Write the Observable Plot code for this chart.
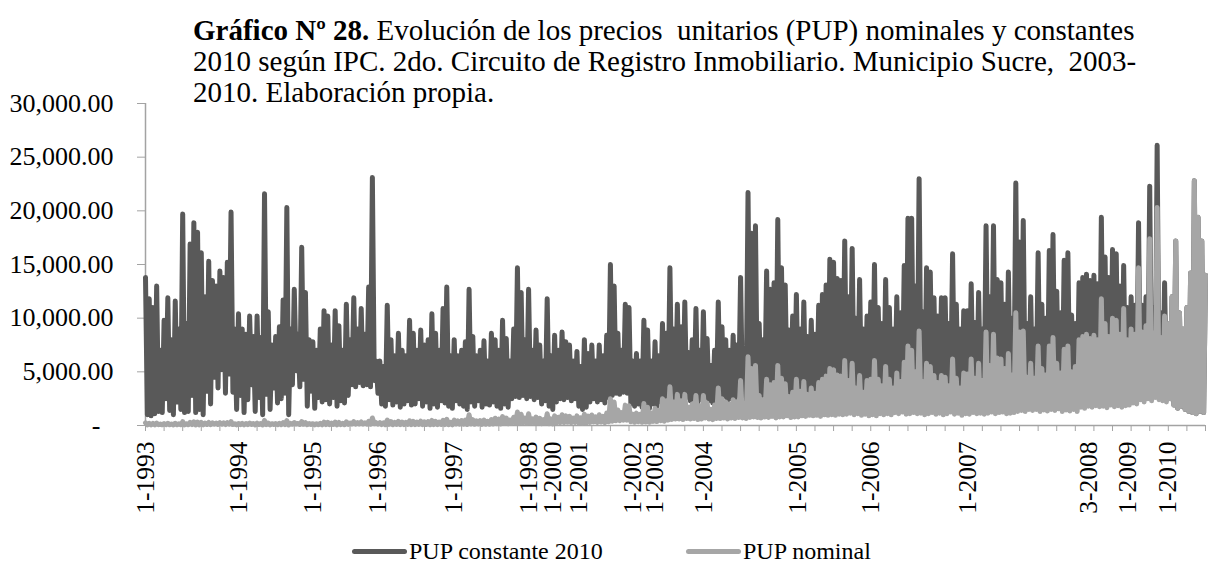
<!DOCTYPE html>
<html>
<head>
<meta charset="utf-8">
<script src="https://cdn.jsdelivr.net/npm/d3@7"></script>
<script src="https://cdn.jsdelivr.net/npm/@observablehq/plot@0.6"></script>
<style>
  html, body { margin: 0; padding: 0; background: #fff; }
  #wrap { position: relative; width: 1208px; height: 565px; overflow: hidden;
          font-family: "Liberation Serif", "Times New Roman", serif; color: #000; }
  #chart { position: absolute; left: 0; top: 0; }
  #title { position: absolute; left: 193px; top: 15px; font-size: 29px; line-height: 31px; }
  #title div { height: 31px; white-space: nowrap; }
  #title span { white-space: pre; }
  .item { position: absolute; top: 539px; height: 24px; line-height: 24px; font-size: 24px;
          display: flex; align-items: center; white-space: nowrap; }
  .sw { display: inline-block; width: 55px; height: 5px; border-radius: 2.5px; margin-right: 2px; }
</style>
</head>
<body>
<div id="wrap">
  <div id="chart"></div>
  <div id="title"><div><span style="font-weight:bold">Gráfico Nº 28.</span><span> Evolución de los precios  unitarios (PUP) nominales y constantes</span></div><div><span>2010 según IPC. 2do. Circuito de Registro Inmobiliario. Municipio Sucre,  2003-</span></div><div><span>2010. Elaboración propia.</span></div></div>
  <div id="legend"></div>
</div>
<script>
// PUP constante 2010 (one value per record, in order)
const pupConstante = [
  // 1993-1994
  13800,1000, 11800,900, 11000,1100, 13000,1300, 7000,1200, 9800,2500, 11900,1400, 8000,1000,
  11600,2200, 9000,1500, 19700,1200, 9500,1300, 16900,2800, 18900,1200, 18000,1500, 16100,1000,
  12000,3200, 15300,2000, 13500,4500, 13000,3500, 14400,5200, 13800,3000, 15200,4800, 19900,3100,
  9000,1500, 10400,2800, 9000,1200, 8500,2400, 10200,3800, 8300,1300, 10200,2600, 8200,1000,
  21600,2900, 10600,1500, 7500,3500, 8300,2100, 9200,2500, 11700,3000, 20300,1000, 9000,3800,
  12700,5100, 8500,3600, 16600,4300, 12400,1800, 8000,3200, 7800,1600, 7000,2600, 9000,2200,
  // 1995-1997
  10700,2400, 10200,2000, 7500,2600, 10700,1800, 9300,2300, 7000,2100, 11300,2800, 8000,3800,
  11900,3600, 9000,4000, 10900,3700, 8500,3800, 12900,3600, 23100,4200, 6000,3000, 6000,2000,
  5500,1800, 11200,2400, 8000,1900, 6500,2200, 8600,1700, 7000,2000, 6500,2300, 9800,1900,
  8600,2000, 7000,2500, 8900,1800, 7500,2200, 8000,1600, 10400,2000, 8600,1700, 7000,2300,
  10900,2100, 12900,1800, 6500,1600, 8000,2300, 6500,2000, 7000,1800, 7800,1500, 12700,2200,
  8300,1800, 6500,2300, 7000,1700, 7900,2000, 6000,1900, 8600,2200,
  // 1998-2003
  8000,1800, 7000,1600, 9800,2000, 8100,1700, 6000,2500, 9000,2700, 14700,2600, 12400,2800,
  8000,2500, 12700,2700, 7000,2400, 8900,2600, 7500,2000, 6000,2300, 11800,1800, 6500,1500,
  8400,2200, 7000,2500, 8700,2400, 7800,2600, 7500,2300, 6000,2500, 6900,1800, 5500,1500,
  8000,1700, 6700,2200, 7500,2500, 6000,2200, 7500,2400, 6500,2100, 8400,2600, 15000,2800,
  13000,3000, 8600,2900, 7000,3100, 11300,3000, 11000,2000, 6000,1800, 6700,2000, 6000,1700,
  9800,1900, 8900,1600, 6000,2000, 7800,1800, 6500,2200, 9500,1900, 8600,2100,
  // 2003-2005
  14700,2300, 9000,2500, 11300,2400, 9200,2200, 11500,2600, 6800,2300, 8000,2500, 10900,2200,
  7000,2400, 10600,2600, 8100,2300, 5600,2100, 7000,2500, 11500,2400, 9200,2700, 8000,2300,
  7000,2500, 8400,2400, 7500,2800, 13800,2600, 6700,2400, 21700,2700, 17900,2900, 18600,2600,
  9500,2500, 8000,2800, 14400,2600, 12700,2900, 13300,2500, 19200,2800, 14700,2700, 13100,3000,
  8900,2600, 10200,2800, 12200,2600, 9000,2900, 11500,2700, 8300,3000, 9800,2800, 8500,3000,
  11200,2700, 12200,3100, 13100,2900, 15500,3200, 15200,3000, 13700,3300, 13500,3100,
  // 2005-2007
  17200,3000, 12000,3300, 16500,2900, 10000,3200, 13600,2800, 9000,3100, 10200,2700, 11500,3000,
  15000,2600, 11000,3100, 9500,2800, 13600,3000, 11000,2700, 9000,3200, 12000,2900, 10500,3300,
  14900,2800, 19300,3000, 19300,3200, 13000,2900, 23000,3100, 10600,2700, 14700,3000, 14300,3200,
  11900,2800, 10200,3100, 11900,2700, 11900,3000, 9500,3300, 16000,2800, 11300,3100, 9000,2600,
  10700,3000, 10700,2800, 13200,3200, 9600,2900, 12400,3100, 9000,2800, 18600,3000, 12000,3300,
  18600,2900, 13600,3100, 13300,3200, 11300,2900, 14300,3000, 10000,3100, 22600,3300,
  // 2007-2010
  17100,3000, 19100,2800, 9500,3200, 12000,2900, 9000,3100, 16100,2700, 11300,3000, 10000,2800,
  16300,3100, 17800,2900, 12500,3200, 10500,2700, 15400,3000, 16100,2800, 10300,3100, 9500,2600,
  13300,2900, 13800,2700, 14100,3000, 13500,2800, 14000,3100, 13200,2900, 19400,3000, 15700,2700,
  13800,3200, 16400,2900, 16000,3100, 13000,2800, 14900,3000, 11000,2700, 12000,3000, 11200,2800,
  18900,3100, 11200,2900, 12000,3200, 22300,3000, 11000,3300, 26100,3100, 10500,3000, 13300,2800,
  9500,2500, 12000,1900, 17200,1600, 10500,1800, 9000,1500, 11000,1300, 14200,1200, 22800,1100,
  19400,1300, 17200,1200, 14000
];

// PUP nominal (same records)
const pupNominal = [
  // 1993-1994
  250,60, 210,50, 200,60, 230,70, 130,60, 180,80, 210,70, 140,60,
  210,80, 160,70, 350,60, 170,70, 300,90, 340,60, 320,70, 290,60,
  220,100, 280,80, 240,120, 230,100, 260,130, 250,90, 270,120, 360,90,
  160,60, 190,80, 200,60, 190,80, 220,100, 180,60, 220,90, 180,50,
  470,90, 230,60, 170,100, 180,70, 200,80, 260,90, 450,50, 200,110,
  280,140, 190,100, 370,120, 270,70, 180,100, 170,60, 160,80, 200,70,
  // 1995-1997
  320,90, 300,80, 230,100, 320,70, 280,90, 210,80, 340,110, 240,140,
  360,130, 270,150, 330,140, 260,140, 390,130, 700,160, 270,130, 270,90,
  250,80, 500,110, 360,90, 290,100, 390,80, 320,90, 290,100, 440,90,
  390,90, 320,110, 400,80, 340,100, 360,70, 470,90, 390,80, 320,100,
  490,90, 580,80, 290,70, 500,150, 420,130, 460,120, 510,100, 1000,140,
  540,120, 420,150, 460,110, 510,130, 390,120, 560,140,
  // 1998-2003
  680,170, 600,150, 830,180, 690,160, 510,220, 770,230, 1250,220, 1050,240,
  700,220, 1100,240, 620,210, 790,230, 670,180, 540,200, 1100,170, 610,140,
  900,230, 770,270, 1000,280, 900,300, 860,260, 700,290, 900,240, 720,200,
  1050,220, 870,290, 980,330, 800,290, 1000,320, 860,280, 1150,350, 2500,400,
  2200,450, 1450,450, 1200,500, 1900,500, 1850,350, 1050,300, 1150,350, 1050,300,
  2050,320, 1700,300, 1150,380, 1600,370, 1400,450, 2500,400, 2300,500,
  // 2003-2005
  3600,550, 2200,600, 2900,600, 2300,550, 2900,650, 1700,600, 2000,650, 2800,550,
  1800,600, 2800,700, 2100,600, 1500,550, 1900,650, 3500,650, 2500,700, 2200,600,
  2000,700, 2400,650, 2200,750, 4200,700, 2000,650, 6400,750, 5300,800, 5600,750,
  2800,700, 2400,800, 4300,750, 3800,850, 4000,700, 5600,800, 4400,800, 3900,900,
  2700,750, 3100,800, 4300,800, 3200,900, 4100,850, 2900,950, 3500,900, 3000,950,
  4000,850, 4300,1000, 4600,950, 5300,1000, 5200,950, 4700,1050, 4600,1000,
  // 2005-2007
  6050,1050, 4200,1150, 5800,1000, 3500,1100, 4650,950, 3100,1050, 4200,900, 4300,1000,
  6050,900, 4300,1100, 3700,1000, 5500,1100, 4300,1000, 3500,1200, 4900,1100, 4100,1250,
  5900,1050, 7400,1100, 7000,1200, 5000,1100, 8800,1150, 4100,1000, 5800,1100, 5500,1200,
  4650,1050, 4000,1150, 4650,1000, 4500,1100, 3700,1250, 6200,1050, 4400,1150, 3500,950,
  4900,1100, 4800,1050, 6200,1200, 4400,1100, 5800,1150, 4200,1050, 8700,1150, 5600,1250,
  8500,1100, 6300,1200, 6200,1250, 5300,1100, 6700,1150, 4700,1200, 10500,1300,
  // 2007-2010
  8700,1400, 8800,1300, 4500,1500, 5800,1400, 4400,1500, 7400,1300, 5300,1450, 4700,1350,
  7400,1500, 8200,1400, 5800,1550, 4900,1300, 7100,1450, 7400,1350, 5000,1500, 5500,1300,
  8000,1700, 8300,1600, 8500,1800, 8100,1700, 8400,1850, 8000,1750, 11800,1800, 9500,1650,
  8300,1900, 10000,1750, 9800,1850, 8500,1700, 10900,1850, 8000,1900, 9000,2100, 8500,2000,
  14700,2400, 8700,2200, 9300,2500, 17400,2300, 8600,2600, 20300,2400, 8200,2300, 10200,2200,
  9500,2500, 12000,1900, 17200,1600, 10500,1800, 9000,1500, 11000,1300, 14200,1200, 22800,1100,
  19400,1300, 17200,1200, 14000
];

// records that carry a category label on the axis
const labelRecord = [0, 50, 90, 125, 166, 206, 219, 233, 262, 274, 300, 351, 390, 442, 507, 528, 550];
const labelText = ["1-1993", "1-1994", "1-1995", "1-1996", "1-1997", "1-1998", "1-2000", "1-2001",
                   "1-2002", "1-2003", "1-2004", "1-2005", "1-2006", "1-2007", "3-2008", "1-2009", "1-2010"];
const yTicks = [0, 5000, 10000, 15000, 20000, 25000, 30000];

const seriesNames = ["PUP constante 2010", "PUP nominal"];
const seriesColors = ["#595959", "#a6a6a6"];
const axisGray = "#a3a3a3";

if (pupConstante.length !== pupNominal.length) throw new Error("length mismatch " + pupConstante.length + " vs " + pupNominal.length);
const n = pupConstante.length;

const rowsC = pupConstante.map((v, i) => ({i, v}));
const rowsN = pupNominal.map((v, i) => ({i, v}));
const labelMap = new Map(labelRecord.map((r, k) => [r, labelText[k]]));
const fmt = d3.format(",.2f");

const lineStyle = {x: "i", y: "v", strokeWidth: 5, strokeLinejoin: "round", strokeLinecap: "round"};

const chart = Plot.plot({
  width: 1208,
  height: 520,
  marginTop: 103,
  marginBottom: 95,
  marginLeft: 145,
  marginRight: 3,
  style: {fontFamily: "'Liberation Serif', 'Times New Roman', serif", fontSize: "26px", background: "transparent", overflow: "visible"},
  x: {domain: [0, n - 1], axis: null},
  y: {domain: [0, 30000], axis: null},
  marks: [
    Plot.ruleX([0], {stroke: axisGray, strokeWidth: 1.5}),
    Plot.axisY({ticks: yTicks, tickSize: 8, tickPadding: 24, stroke: axisGray, fill: "#000", fontSize: 26,
                tickFormat: d => d === 0 ? "-\u2002" : fmt(d), label: null}),
    Plot.axisX({ticks: d3.range(0, n, 10), tickSize: 6, stroke: axisGray, tickFormat: () => "", label: null}),
    Plot.axisX({ticks: labelRecord, tickSize: 0, tickPadding: 16, tickRotate: -90, fontSize: 25.5, fill: "#000",
                tickFormat: i => labelMap.get(i), label: null}),
    Plot.ruleY([0], {stroke: axisGray, strokeWidth: 1.5}),
    Plot.line(rowsC, {...lineStyle, stroke: seriesColors[0]}),
    Plot.line(rowsN, {...lineStyle, stroke: seriesColors[1]})
  ]
});
document.getElementById("chart").appendChild(chart);

// legend
const legend = document.getElementById("legend");
const legendLeft = [352, 686];
seriesNames.forEach((name, k) => {
  const item = document.createElement("div");
  item.className = "item";
  item.style.left = legendLeft[k] + "px";
  const sw = document.createElement("span");
  sw.className = "sw";
  sw.style.background = seriesColors[k];
  const tx = document.createElement("span");
  tx.textContent = name;
  item.appendChild(sw);
  item.appendChild(tx);
  legend.appendChild(item);
});
</script>
</body>
</html>
